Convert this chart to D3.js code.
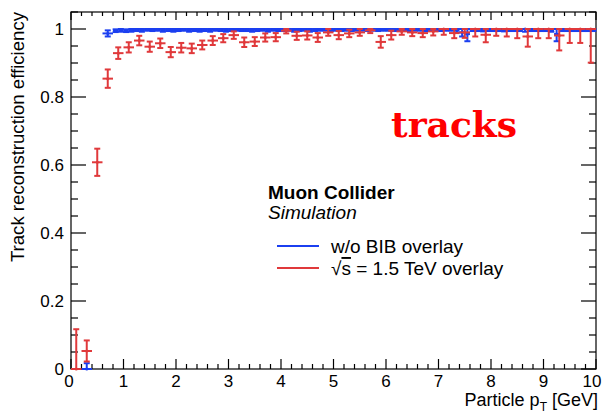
<!DOCTYPE html>
<html>
<head>
<meta charset="utf-8">
<script src="https://cdn.jsdelivr.net/npm/d3@7"></script>
<style>
  body { margin: 0; background: #fff; }
  svg { display: block; font-family: "Liberation Sans", Arial, sans-serif; }
</style>
</head>
<body>
<svg id="chart"></svg>
<script>
const width = 605,
    height = 413;

const margin = { top: 12, right: 9, bottom: 44, left: 71 };

// red: with BIB overlay, 0.2 GeV bins
const redPt = [
    0.1, 0.3, 0.5, 0.7, 0.9, 1.1, 1.3, 1.5, 1.7, 1.9,
    2.1, 2.3, 2.5, 2.7, 2.9, 3.1, 3.3, 3.5, 3.7, 3.9,
    4.1, 4.3, 4.5, 4.7, 4.9, 5.1, 5.3, 5.5, 5.7, 5.9,
    6.1, 6.3, 6.5, 6.7, 6.9, 7.1, 7.3, 7.5, 7.7, 7.9,
    8.1, 8.3, 8.5, 8.7, 8.9, 9.1, 9.3, 9.5, 9.7, 9.9
];
const redEff = [
    0.0, 0.053, 0.608, 0.854, 0.929, 0.946, 0.966, 0.948, 0.958, 0.932,
    0.945, 0.943, 0.953, 0.966, 0.973, 0.982, 0.961, 0.963, 0.975, 0.976,
    0.995, 0.98, 0.981, 0.975, 0.99, 0.982, 0.987, 0.99, 0.996, 0.962,
    0.982, 0.993, 0.99, 0.988, 0.993, 1.0, 0.988, 0.99, 1.0, 0.983,
    1.0, 1.0, 1.0, 0.978, 1.0, 1.0, 0.981, 1.0, 1.0, 1.0
];
const redErr = [
    0.117, 0.031, 0.04, 0.027, 0.017, 0.015, 0.014, 0.015, 0.014, 0.015,
    0.014, 0.014, 0.013, 0.013, 0.012, 0.011, 0.014, 0.013, 0.012, 0.012,
    0.008, 0.012, 0.012, 0.013, 0.01, 0.012, 0.011, 0.01, 0.008, 0.017,
    0.013, 0.01, 0.011, 0.012, 0.012, 0.017, 0.015, 0.016, 0.022, 0.022,
    0.02, 0.022, 0.027, 0.03, 0.027, 0.027, 0.044, 0.041, 0.041, 0.099
];

// blue: without BIB, 0.1 GeV bins above 0.8 GeV
const bluePt = [
    0.3, 0.7,
    0.85, 0.95, 1.05, 1.15, 1.25, 1.35, 1.45, 1.55, 1.65, 1.75,
    1.85, 1.95, 2.05, 2.15, 2.25, 2.35, 2.45, 2.55, 2.65, 2.75,
    2.85, 2.95, 3.05, 3.15, 3.25, 3.35, 3.45, 3.55, 3.65, 3.75,
    3.85, 3.95, 4.05, 4.15, 4.25, 4.35, 4.45, 4.55, 4.65, 4.75,
    4.85, 4.95, 5.05, 5.15, 5.25, 5.35, 5.45, 5.55, 5.65, 5.75,
    5.85, 5.95, 6.05, 6.15, 6.25, 6.35, 6.45, 6.55, 6.65, 6.75,
    6.85, 6.95, 7.05, 7.15, 7.25, 7.35, 7.45, 7.55, 7.65, 7.75,
    7.85, 7.95, 8.05, 8.15, 8.25, 8.35, 8.45, 8.55, 8.65, 8.75,
    8.85, 8.95, 9.05, 9.15, 9.25, 9.35, 9.45, 9.55, 9.65, 9.75,
    9.85, 9.95
];
const blueBinWidth = [0.2, 0.2]; // the first two bins are wide, the rest 0.1
const blueEff = [
    0.0, 0.987,
    0.995, 0.996, 0.995, 0.996, 0.997, 0.996, 0.998, 0.997, 0.998, 0.996,
    0.997, 0.996, 0.997, 0.998, 0.996, 0.997, 0.996, 0.997, 0.996, 0.998,
    0.997, 0.996, 0.997, 0.998, 0.997, 0.997, 0.996, 0.997, 0.998, 0.996,
    0.998, 0.997, 0.997, 0.998, 0.996, 0.997, 0.998, 0.996, 0.997, 0.998,
    0.998, 0.997, 0.998, 0.997, 0.998, 0.997, 0.998, 0.998, 0.997, 0.998,
    0.997, 0.998, 0.998, 0.997, 0.998, 0.998, 0.997, 0.998, 0.998, 0.997,
    0.998, 0.998, 0.997, 0.998, 0.998, 0.996, 0.99, 0.985, 0.998, 0.998,
    0.997, 0.998, 0.998, 0.998, 0.997, 0.998, 0.998, 0.998, 1.0, 0.998,
    0.998, 0.998, 0.998, 0.997, 0.985, 0.998, 0.998, 0.998, 0.998, 0.998,
    0.998, 0.998
];
const blueErr = [
    0.017, 0.009,
    0.004, 0.004, 0.004, 0.004, 0.003, 0.004, 0.003, 0.003, 0.003, 0.004,
    0.003, 0.004, 0.003, 0.003, 0.004, 0.003, 0.004, 0.003, 0.004, 0.003,
    0.003, 0.004, 0.003, 0.003, 0.003, 0.003, 0.004, 0.003, 0.003, 0.004,
    0.003, 0.003, 0.003, 0.003, 0.004, 0.003, 0.003, 0.004, 0.003, 0.003,
    0.003, 0.003, 0.003, 0.003, 0.003, 0.003, 0.003, 0.003, 0.003, 0.003,
    0.003, 0.003, 0.003, 0.003, 0.003, 0.003, 0.003, 0.003, 0.003, 0.003,
    0.003, 0.003, 0.003, 0.003, 0.003, 0.006, 0.012, 0.021, 0.004, 0.004,
    0.004, 0.004, 0.004, 0.004, 0.004, 0.004, 0.004, 0.004, 0.008, 0.004,
    0.004, 0.004, 0.004, 0.005, 0.021, 0.004, 0.004, 0.004, 0.004, 0.004,
    0.004, 0.004
];

const xTicks = [0, 1, 2, 3, 4, 5, 6, 7, 8, 9, 10];
const yTicks = [0, 0.2, 0.4, 0.6, 0.8, 1];

const blueColor = "#1b3ff0",
    redColor = "#e0393b";

const svg = d3.select("#chart").attr("width", width).attr("height", height);

svg.append("rect")
    .attr("width", width)
    .attr("height", height)
    .attr("fill", "#fff");

const x = d3
    .scaleLinear()
    .domain([0, 10])
    .range([margin.left, width - margin.right]);

const y = d3
    .scaleLinear()
    .domain([0, 1.05])
    .range([height - margin.bottom, margin.top]);

const x0 = x.range()[0],
    x1 = x.range()[1],
    y0 = y.range()[0],
    y1 = y.range()[1];

// ticks on all four sides, pointing inwards (ROOT style)
const axes = svg.append("g").attr("stroke", "#000").attr("stroke-width", 1.2);

d3.range(0, 10.001, 0.2).forEach(function(v) {
    const major = Math.abs(v - Math.round(v)) < 1e-6;
    const len = major ? 10 : 5;
    axes.append("line")
        .attr("x1", x(v)).attr("x2", x(v))
        .attr("y1", y0).attr("y2", y0 - len);
    axes.append("line")
        .attr("x1", x(v)).attr("x2", x(v))
        .attr("y1", y1).attr("y2", y1 + (major ? 8 : 4));
});

d3.range(0, 1.0501, 0.05).forEach(function(v) {
    const major = Math.abs(v / 0.2 - Math.round(v / 0.2)) < 1e-6;
    const len = major ? 15 : 7;
    axes.append("line")
        .attr("x1", x0).attr("x2", x0 + len)
        .attr("y1", y(v)).attr("y2", y(v));
    axes.append("line")
        .attr("x1", x1).attr("x2", x1 - len)
        .attr("y1", y(v)).attr("y2", y(v));
});

axes.append("rect")
    .attr("x", x0)
    .attr("y", y1)
    .attr("width", x1 - x0)
    .attr("height", y0 - y1)
    .attr("fill", "none");

// tick labels
svg.append("g")
    .selectAll("text")
    .data(xTicks)
    .enter()
    .append("text")
    .attr("x", d => x(d) + (d === 0 ? -2 : d === 10 ? -4 : 0))
    .attr("y", y0 + 18)
    .attr("text-anchor", "middle")
    .attr("font-size", 17)
    .text(d => d);

svg.append("g")
    .selectAll("text")
    .data(yTicks)
    .enter()
    .append("text")
    .attr("x", x0 - 7)
    .attr("y", d => y(d) + 6)
    .attr("text-anchor", "end")
    .attr("font-size", 17)
    .text(d => d);

// axis titles
const xTitle = svg.append("text")
    .attr("x", 598)
    .attr("y", 406)
    .attr("text-anchor", "end")
    .attr("font-size", 18);
xTitle.append("tspan").text("Particle p");
xTitle.append("tspan").attr("font-size", 12).attr("dy", 5).text("T");
xTitle.append("tspan").attr("dy", -5).text(" [GeV]");

svg.append("text")
    .attr("transform", "translate(24," + y1 + ") rotate(-90)")
    .attr("text-anchor", "end")
    .attr("font-size", 18.6)
    .text("Track reconstruction efficiency");

// error-bar series
function drawSeries(pts, eff, err, halfW, color) {
    const g = svg.append("g")
        .attr("stroke", color)
        .attr("stroke-width", 2)
        .attr("fill", color);
    const data = pts.map((p, i) => ({
        p: p,
        v: eff[i],
        lo: Math.max(0, eff[i] - err[i]),
        hi: Math.min(1, eff[i] + err[i]),
        w: halfW(i)
    }));
    const bins = g.selectAll("g").data(data).enter().append("g");
    bins.append("line")
        .attr("x1", d => x(d.p - d.w)).attr("x2", d => x(d.p + d.w))
        .attr("y1", d => y(d.v)).attr("y2", d => y(d.v));
    bins.append("line")
        .attr("x1", d => x(d.p)).attr("x2", d => x(d.p))
        .attr("y1", d => y(d.lo)).attr("y2", d => y(d.hi));
    bins.filter(d => d.hi > d.v)
        .append("line")
        .attr("x1", d => x(d.p) - 3).attr("x2", d => x(d.p) + 3)
        .attr("y1", d => y(d.hi)).attr("y2", d => y(d.hi));
    bins.filter(d => d.lo < d.v)
        .append("line")
        .attr("x1", d => x(d.p) - 3).attr("x2", d => x(d.p) + 3)
        .attr("y1", d => y(d.lo)).attr("y2", d => y(d.lo));
    bins.append("circle")
        .attr("cx", d => x(d.p))
        .attr("cy", d => y(d.v))
        .attr("r", 1.5)
        .attr("stroke", "none");
}

drawSeries(bluePt, blueEff, blueErr, i => (blueBinWidth[i] || 0.1) / 2, blueColor);
drawSeries(redPt, redEff, redErr, () => 0.1, redColor);

// labels
svg.append("text")
    .attr("x", 391)
    .attr("y", 137)
    .attr("fill", "#ff0000")
    .attr("font-family", "'DejaVu Serif', serif")
    .attr("font-weight", "bold")
    .attr("font-size", 36)
    .text("tracks");

svg.append("text")
    .attr("x", 268)
    .attr("y", 199)
    .attr("font-weight", "bold")
    .attr("font-size", 19)
    .text("Muon Collider");

svg.append("text")
    .attr("x", 268)
    .attr("y", 219)
    .attr("font-style", "italic")
    .attr("font-size", 19)
    .text("Simulation");

const legendItems = [
    { pre: "w/o BIB overlay", s: "", post: "", color: blueColor },
    { pre: "\u221A", s: "s", post: " = 1.5 TeV overlay", color: redColor }
];

const legend = svg.append("g").attr("transform", "translate(277,246)");
legend.selectAll("line")
    .data(legendItems)
    .enter()
    .append("line")
    .attr("x1", 0).attr("x2", 42)
    .attr("y1", (d, i) => i * 22).attr("y2", (d, i) => i * 22)
    .attr("stroke", d => d.color)
    .attr("stroke-width", 2);
const legendText = legend.selectAll("text")
    .data(legendItems)
    .enter()
    .append("text")
    .attr("x", 54)
    .attr("y", (d, i) => i * 22 + 7)
    .attr("font-size", 19);
legendText.append("tspan").text(d => d.pre);
legendText.append("tspan")
    .attr("text-decoration", "overline")
    .text(d => d.s);
legendText.append("tspan").text(d => d.post);
</script>
</body>
</html>
